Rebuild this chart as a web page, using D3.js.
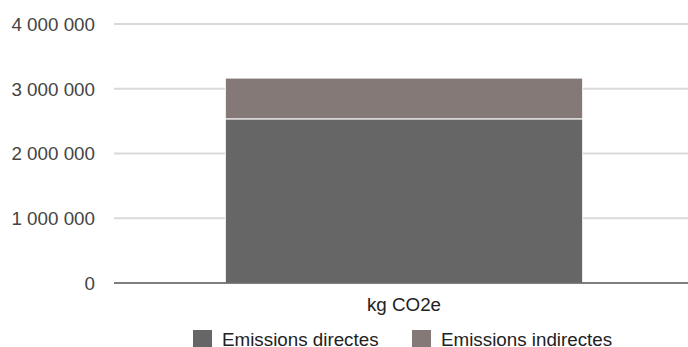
<!DOCTYPE html>
<html>
<head>
<meta charset="utf-8">
<script src="https://cdn.jsdelivr.net/npm/d3@7"></script>
<style>
  body { margin: 0; background: #fff; }
  svg { font-family: "Liberation Sans", Arial, sans-serif; }
</style>
</head>
<body>
<div id="chart-area"></div>
<script>
var categories = ["kg CO2e"];
var seriesNames = ["Emissions directes", "Emissions indirectes"];
var directes = [2535000];
var indirectes = [630000];
var yTicks = [0, 1000000, 2000000, 3000000, 4000000];
var colors = ["#666666", "#857977"];

var margin = { left: 114, right: 0, top: 24, bottom: 64 };
var width = 688 - margin.left - margin.right;
var height = 347 - margin.top - margin.bottom;

var svg = d3.select("#chart-area")
    .append("svg")
    .attr("width", 688)
    .attr("height", 347);

var g = svg.append("g")
    .attr("transform", "translate(" + margin.left + "," + margin.top + ")");

var y = d3.scaleLinear().domain([0, 4000000]).range([height, 0]);
var x = d3.scaleBand().domain(categories).range([0, 580]).paddingInner(0).paddingOuter(0.3114);

var fmt = function(d) { return d3.format(",")(d).replace(/,/g, " "); };

// grid
g.selectAll(".grid")
    .data(yTicks.filter(function(d) { return d > 0; }))
    .enter().append("line")
    .attr("x1", 0).attr("x2", width)
    .attr("y1", function(d) { return y(d); })
    .attr("y2", function(d) { return y(d); })
    .attr("stroke", "#d9d9d9")
    .attr("stroke-width", 2);

// y labels
g.selectAll(".ylab")
    .data(yTicks)
    .enter().append("text")
    .attr("x", -19)
    .attr("y", function(d) { return y(d); })
    .attr("dy", "0.36em")
    .attr("text-anchor", "end")
    .attr("font-size", "18.8px")
    .attr("fill", "#444")
    .text(fmt);

// stacked bars
var rows = categories.map(function(c, i) {
    return { cat: c, "Emissions directes": directes[i], "Emissions indirectes": indirectes[i] };
});
var stack = d3.stack().keys(seriesNames)(rows);

g.selectAll(".layer")
    .data(stack)
    .enter().append("g")
    .attr("fill", function(d, i) { return colors[i]; })
    .selectAll("rect")
    .data(function(d) { return d; })
    .enter().append("rect")
    .attr("x", function(d) { return x(d.data.cat); })
    .attr("width", x.bandwidth())
    .attr("y", function(d) { return y(d[1]); })
    .attr("height", function(d) { return y(d[0]) - y(d[1]); })
    .attr("stroke", "#fff")
    .attr("stroke-width", 1);

// baseline
g.append("line")
    .attr("x1", 0).attr("x2", width)
    .attr("y1", y(0)).attr("y2", y(0))
    .attr("stroke", "#555")
    .attr("stroke-width", 1.5);

// x label
g.selectAll(".xlab")
    .data(categories)
    .enter().append("text")
    .attr("x", function(d) { return x(d) + x.bandwidth() / 2; })
    .attr("y", height + 28)
    .attr("text-anchor", "middle")
    .attr("font-size", "18.8px")
    .attr("fill", "#222")
    .text(function(d) { return d; });

// legend
var legX = [193, 412];
var leg = svg.selectAll(".leg")
    .data(seriesNames)
    .enter().append("g")
    .attr("transform", function(d, i) { return "translate(" + legX[i] + ",330)"; });
leg.append("rect")
    .attr("width", 19).attr("height", 19)
    .attr("fill", function(d, i) { return colors[i]; });
leg.append("text")
    .attr("x", 29)
    .attr("y", 16)
    .attr("font-size", "18.8px")
    .attr("fill", "#222")
    .text(function(d) { return d; });
</script>
</body>
</html>
